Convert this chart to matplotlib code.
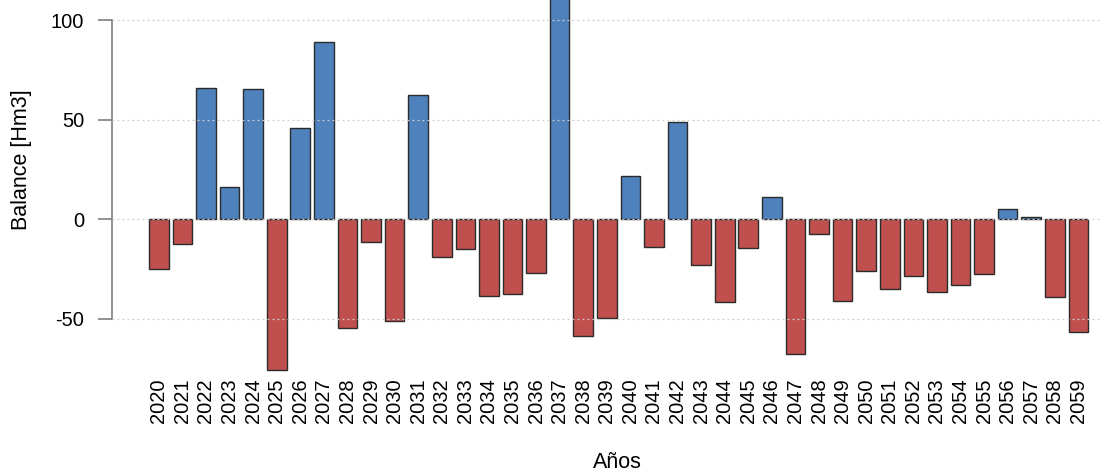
import matplotlib
matplotlib.use('Agg')
import matplotlib.pyplot as plt
import numpy as np

# Balance hidrico anual por año (Hm3)
years = list(range(2020, 2060))
balance = [
    -24.8, -12.4, 66.1, 16.1, 65.6, -75.7, 45.9, 89.2, -54.6, -11.6,
    -51.1, 62.3, -18.9, -14.8, -38.7, -37.5, -26.8, 129.0, -58.6, -49.4,
    21.8, -13.9, 48.9, -23.1, -41.6, -14.3, 11.1, -67.8, -7.4, -41.2,
    -25.8, -35.2, -28.6, -36.5, -32.9, -27.3, 5.0, 1.3, -39.2, -56.8,
]
y_ticks = [-50, 0, 50, 100]

BLUE = '#4F81BD'
RED = '#C0504D'

plt.rcParams['font.family'] = ['Liberation Sans', 'DejaVu Sans']

W, H = 1102, 475
fig = plt.figure(figsize=(W / 100, H / 100), dpi=100, facecolor='white')

# plot region in pixels: x 112..1126, y -54..374 (runs past the canvas edges)
ax = fig.add_axes([112 / W, (H - 374) / H, (1126 - 112) / W, (374 + 54) / H])
ax.set_facecolor('white')

x = np.arange(len(years))
colors = [BLUE if v > 0 else RED for v in balance]
ax.bar(x, balance, width=0.833, color=colors, edgecolor='#2b2b2b',
       linewidth=1.0, zorder=2)

for t in y_ticks:
    ax.axhline(t, color='#cccccc', linestyle=(0, (1.5, 2.5)), linewidth=0.9,
               zorder=3)

ax.set_xlim(-1.985, 41.02)
ax.set_ylim(-77.7, 137.3)

for s in ['top', 'right', 'bottom']:
    ax.spines[s].set_visible(False)
ax.spines['left'].set_bounds(-50, 100)
ax.spines['left'].set_color('#7f7f7f')
ax.spines['left'].set_linewidth(1.2)

ax.set_yticks(y_ticks)
ax.set_yticklabels([str(t) for t in y_ticks])
ax.tick_params(axis='y', length=10, width=1.2, color='#7f7f7f', pad=10,
               labelsize=14.5, labelcolor='black')
for tick, t in zip(ax.yaxis.get_major_ticks(), y_ticks):
    if t == 0:
        tick.tick1line.set_color('black')

ax.set_xticks(x)
ax.set_xticklabels([str(y) for y in years], rotation=90)
ax.tick_params(axis='x', length=0, pad=3, labelsize=14.5, labelcolor='black')

fig.text(22 / W, 1 - 160 / H, 'Balance [Hm3]', rotation=90, ha='center',
         va='center', fontsize=15.5)
fig.text(617 / W, 1 - 462 / H, 'Años', ha='center', va='center',
         fontsize=15.5)

fig.savefig('out.png', dpi=100, facecolor='white')
plt.close(fig)
